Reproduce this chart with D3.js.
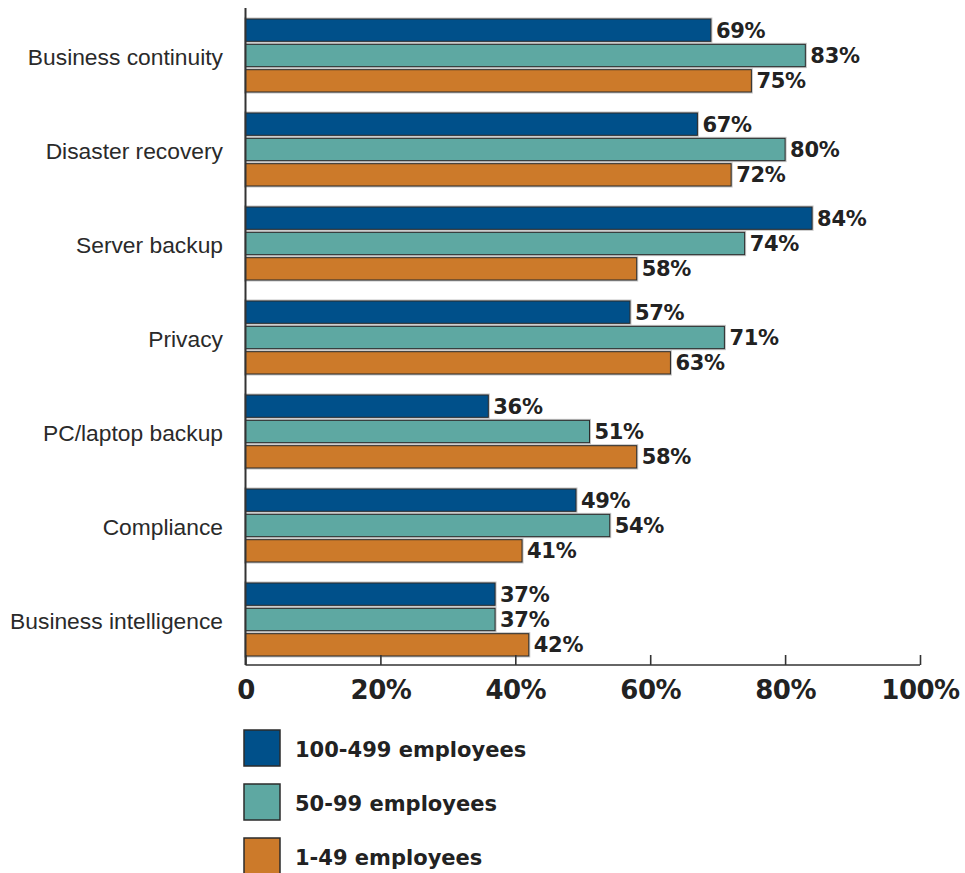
<!DOCTYPE html>
<html><head><meta charset="utf-8">
<script src="https://cdn.jsdelivr.net/npm/d3@7"></script>
<style>body{margin:0;background:#fff}svg{display:block}</style>
</head><body>
<svg id="chart" width="965" height="873"></svg>
<script>
const categories = ["Business continuity","Disaster recovery","Server backup","Privacy","PC/laptop backup","Compliance","Business intelligence"];
const seriesNames = ["100-499 employees","50-99 employees","1-49 employees"];
const seriesColors = ["#00508a","#5ea8a2","#cc7a2a"];
const values100to499 = [69,67,84,57,36,49,37];
const values50to99 = [83,80,74,71,51,54,37];
const values1to49 = [75,72,58,63,58,41,42];
const tickValues = [0,20,40,60,80,100];
const tickLabels = ["0","20%","40%","60%","80%","100%"];

const seriesValues = [values100to499, values50to99, values1to49];
const svg = d3.select("#chart");
const x = d3.scaleLinear().domain([0,100]).range([245.5,920]);
const y = d3.scaleBand().domain(categories).range([19, 19+7*94]).padding(0);
const yi = d3.scaleBand().domain(d3.range(3)).range([0,73]).paddingInner(0.12);
const axisY = 665;

// bars
const groups = svg.append("g").selectAll("g").data(categories).join("g")
  .attr("transform", c => `translate(0,${y(c)})`);
groups.each(function(c, ci){
  const g = d3.select(this);
  seriesValues.forEach((vals, si) => {
    const v = vals[ci];
    g.append("rect").attr("x", x(0)).attr("y", yi(si)).attr("width", x(v)-x(0)).attr("height", yi.bandwidth())
      .attr("fill","none").attr("stroke","#c4c4c4").attr("stroke-width",3);
  });
  seriesValues.forEach((vals, si) => {
    const v = vals[ci];
    g.append("rect").attr("x", x(0)).attr("y", yi(si)).attr("width", x(v)-x(0)).attr("height", yi.bandwidth())
      .attr("fill", seriesColors[si]).attr("stroke","#2b2b2b").attr("stroke-width",1);
    g.append("text").attr("x", x(v)+5).attr("y", yi(si)+yi.bandwidth()/2)
      .attr("dy","0.36em").attr("font-family","DejaVu Sans").attr("font-weight","bold")
      .attr("font-size",21).attr("fill","#222").attr("letter-spacing","-0.3")
      .text(v+"%");
  });
  g.append("text").attr("x",223).attr("y",38).attr("dy","0.36em").attr("text-anchor","end")
    .attr("font-family","Liberation Sans").attr("font-size",22.8).attr("fill","#2a2a2a").text(c);
});

// axes
svg.append("line").attr("x1",x(0)).attr("x2",x(0)).attr("y1",8).attr("y2",axisY)
  .attr("stroke","#333").attr("stroke-width",2);
const xAxis = d3.axisBottom(x).tickValues(tickValues).tickSize(0).tickFormat((d,i)=>tickLabels[i]);
const ax = svg.append("g").attr("transform",`translate(0,${axisY})`).call(xAxis);
ax.select(".domain").attr("stroke","#333").attr("stroke-width",1.6).attr("d",`M${x(0)},0H${x(100)}`);
ax.selectAll(".tick line").attr("y2",-10).attr("stroke","#333").attr("stroke-width",1.6);
ax.selectAll(".tick text").attr("y",25).attr("dy","0.36em").attr("font-family","DejaVu Sans")
  .attr("font-weight","bold").attr("font-size",26).attr("fill","#222").attr("letter-spacing","-0.5");

// legend
const lg = svg.append("g").selectAll("g").data(seriesNames).join("g")
  .attr("transform",(d,i)=>`translate(244,${730+i*54})`);
lg.append("rect").attr("width",36).attr("height",36).attr("fill",(d,i)=>seriesColors[i])
  .attr("stroke","#2b2b2b").attr("stroke-width",1.5);
lg.append("text").attr("x",51).attr("y",19).attr("dy","0.36em").attr("font-family","DejaVu Sans")
  .attr("font-weight","bold").attr("font-size",21).attr("fill","#222").text(d=>d);
</script>
</body></html>
